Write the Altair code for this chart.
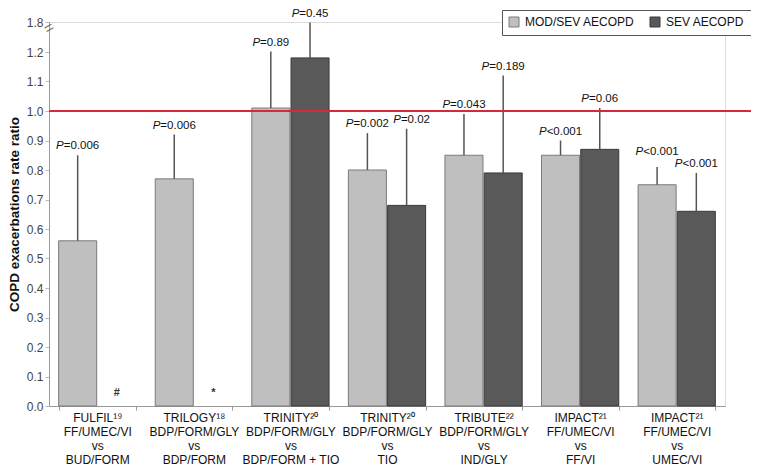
import altair as alt
import pandas as pd

categories = [
    "FULFIL¹⁹|FF/UMEC/VI|vs|BUD/FORM",
    "TRILOGY¹⁸|BDP/FORM/GLY|vs|BDP/FORM",
    "TRINITY²⁰|BDP/FORM/GLY|vs|BDP/FORM + TIO",
    "TRINITY²⁰|BDP/FORM/GLY|vs|TIO",
    "TRIBUTE²²|BDP/FORM/GLY|vs|IND/GLY",
    "IMPACT²¹|FF/UMEC/VI|vs|FF/VI",
    "IMPACT²¹|FF/UMEC/VI|vs|UMEC/VI",
]
series_names = ["MOD/SEV AECOPD", "SEV AECOPD"]
mod_sev = [0.56, 0.77, 1.01, 0.80, 0.85, 0.85, 0.75]
mod_sev_upper = [0.85, 0.92, 1.21, 0.925, 0.99, 0.90, 0.81]
mod_sev_p = ["=0.006", "=0.006", "=0.89", "=0.002", "=0.043", "<0.001", "<0.001"]
sev = [None, None, 1.18, 0.68, 0.79, 0.87, 0.66]
sev_upper = [None, None, 1.79, 0.94, 1.12, 1.01, 0.79]
sev_p = [None, None, "=0.45", "=0.02", "=0.189", "=0.06", "<0.001"]
missing_marks = ["#", "*", None, None, None, None, None]
y_ticks = [0.0, 0.1, 0.2, 0.3, 0.4, 0.5, 0.6, 0.7, 0.8, 0.9, 1.0, 1.1, 1.2, 1.8]

PFS = 11.5
# Arial-ish glyph widths (per 1000 em) to centre "P" + rest
W = {"P": 667, "=": 584, "<": 584, ".": 278}
def text_w(s, size=PFS):
    return sum(W.get(c, 556) for c in s) * size / 1000.0

# small label nudges to avoid collisions, as in the original figure
label_nudge = {(3, 1): (5, -4), (6, 0): (0, -10)}

rows = []
for i, c in enumerate(categories):
    for k, (s, vals, ups, ps) in enumerate([(series_names[0], mod_sev, mod_sev_upper, mod_sev_p),
                                            (series_names[1], sev, sev_upper, sev_p)]):
        if vals[i] is None:
            continue
        wp = text_w("P")
        wr = text_w(ps[i])
        ndx, ndy = label_nudge.get((i, k), (0, -4))
        rows.append({"cat": c, "series": s, "value": vals[i], "upper": ups[i],
                     "rest": ps[i], "pdx": wp - (wp + wr) / 2.0 + ndx, "pdy": ndy})
df = pd.DataFrame(rows)

marks_df = pd.DataFrame([{"cat": categories[i], "series": series_names[1], "mk": m, "value": 0.045}
                         for i, m in enumerate(missing_marks) if m])

TOP = 14
H = 384
WID = 676
yscale = alt.Scale(domain=[0, 1.2, 1.8], range=[H, 30, 0], nice=False, zero=False)
y_axis = alt.Axis(values=y_ticks, format=".1f", title="COPD exacerbations rate ratio",
                  titleFontSize=13.5, titleFontWeight="bold", titleFont="Liberation Sans",
                  titleColor="#111", labelFont="Liberation Sans", labelFontSize=12,
                  labelColor="#444", domainColor="#999", tickColor="#bbb", tickSize=4,
                  grid=False, titlePadding=5, labelOverlap=False, labelFlush=False)
x_axis = alt.Axis(title=None, labelExpr="isValid(datum.value) ? split(datum.value, '|') : ''",
                  labelAngle=0, labelFontSize=12, labelColor="#111", labelLineHeight=14,
                  labelFont="Liberation Sans", labelPadding=2,
                  tickBand="extent", tickColor="#999", tickSize=4,
                  domainColor="#999", labelBaseline="top")

def X():
    return alt.X("cat:N", sort=categories, scale=alt.Scale(paddingInner=0.2, paddingOuter=0.1),
                 axis=x_axis)

def XO():
    return alt.XOffset("series:N", sort=series_names,
                       scale=alt.Scale(domain=series_names, paddingInner=0.03))

def Y(field):
    return alt.Y(field, scale=yscale, axis=y_axis)

base = alt.Chart(df)

bars = base.mark_bar(strokeWidth=1).encode(
    x=X(), xOffset=XO(), y=Y("value:Q"),
    fill=alt.Color("series:N", sort=series_names,
                   scale=alt.Scale(domain=series_names, range=["#bfbfbf", "#595959"]),
                   legend=alt.Legend(title=None, orient="none", legendX=453, legendY=-12,
                                     direction="horizontal", strokeColor="#555", padding=6,
                                     labelFontSize=12, labelFont="Liberation Sans",
                                     labelColor="#111", symbolType="square", symbolSize=100,
                                     symbolStrokeColor="#666", symbolStrokeWidth=1,
                                     columnPadding=13, gridAlign="none", labelOffset=5,
                                     fillColor="white")),
    stroke=alt.Stroke("series:N", sort=series_names,
                      scale=alt.Scale(domain=series_names, range=["#7a7a7a", "#3a3a3a"]),
                      legend=None),
)

whiskers = base.mark_rule(color="#555", strokeWidth=1.5).encode(
    x=X(), xOffset=XO(), y=Y("value:Q"), y2="upper:Q")

p_italic = base.mark_text(text="P", fontStyle="italic", font="Liberation Sans", fontSize=PFS,
                          align="right", baseline="bottom", color="#111",
                          dx={"expr": "datum.pdx"}, dy={"expr": "datum.pdy"}).encode(
    x=X(), xOffset=XO(), y=Y("upper:Q"))
p_rest = base.mark_text(font="Liberation Sans", fontSize=PFS, align="left", baseline="bottom",
                        color="#111", dx={"expr": "datum.pdx"}, dy={"expr": "datum.pdy"}).encode(
    x=X(), xOffset=XO(), y=Y("upper:Q"), text="rest:N")

missing = alt.Chart(marks_df).mark_text(font="Liberation Sans", fontSize=11, color="#333",
                                        fontWeight="bold").encode(
    x=X(), xOffset=XO(), y=Y("value:Q"), text="mk:N")

ref = alt.Chart(pd.DataFrame({"value": [1.0]})).mark_rule(color="#d42a3c", strokeWidth=2).encode(
    y=Y("value:Q"), x=alt.value(0), x2=alt.value(712))

brk = alt.Chart(pd.DataFrame({"value": [1.68]})).mark_text(
    text="=", fontSize=16, angle=330, color="#777", font="Liberation Sans").encode(
    y=Y("value:Q"), x=alt.value(0))

chart = alt.layer(bars, whiskers, ref, p_italic, p_rest, missing, brk).properties(
    width=WID, height=H,
    autosize=alt.AutoSizeParams(type="none"),
    padding={"left": 41, "top": TOP, "right": 26, "bottom": 60},
).configure_view(stroke=None).configure(background="white")

chart.save("out.html", embed_options={"renderer": "svg", "actions": False})
